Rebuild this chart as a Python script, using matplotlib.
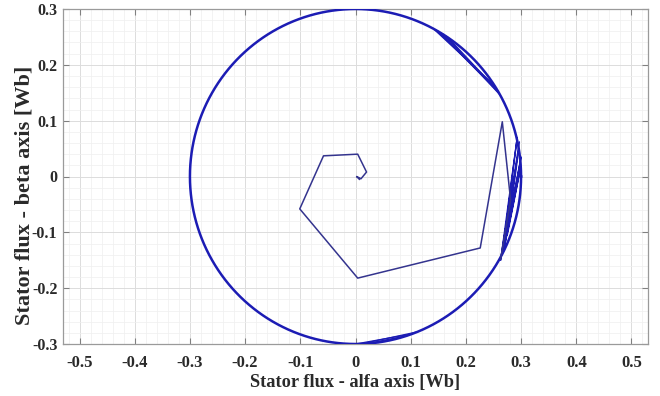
import numpy as np
import matplotlib
matplotlib.use("Agg")
import matplotlib.pyplot as plt
from matplotlib.ticker import MultipleLocator

# ---- data ----
flux_ref = 0.3  # steady-state stator flux magnitude [Wb]

# start-up transient trajectory (alpha, beta)
trans_alpha = [0.007, 0.002, 0.010, 0.020, 0.014, 0.004, -0.058, -0.101, 0.004, 0.226, 0.266, 0.281, 0.263]
trans_beta = [-0.005, 0.000, -0.004, 0.008, 0.020, 0.040, 0.037, -0.058, -0.182, -0.128, 0.098, -0.042, -0.148]

# zig-zag chords on the right side
zig_alpha = [0.263, 0.297, 0.270, 0.300, 0.268, 0.299, 0.275, 0.296, 0.266, 0.293, 0.263]
zig_beta = [-0.148, 0.062, -0.125, 0.035, -0.135, 0.015, -0.105, 0.050, -0.140, 0.070, -0.150]

# chords near the top-right (start/end angles in degrees)
top_chord_start = [60, 58, 57, 61, 59, 56, 62]
top_chord_end = [30, 31, 29, 32, 30, 31, 33]

# chords near the bottom
bot_chord_start = [-90, -88, -86]
bot_chord_end = [-70, -68, -72]

xticks = [-0.5, -0.4, -0.3, -0.2, -0.1, 0, 0.1, 0.2, 0.3, 0.4, 0.5]
yticks = [-0.3, -0.2, -0.1, 0, 0.1, 0.2, 0.3]

# ---- figure ----
plt.rcParams['font.family'] = ['Liberation Serif', 'DejaVu Serif']
plt.rcParams['font.weight'] = 'bold'

fig = plt.figure(figsize=(6.6, 3.96), dpi=100)
ax = fig.add_axes([63/660, 52/396, (648-63)/660, (344-9)/396])

circ_col = '#1c1cb4'
tr_col = '#34348e'
txt_col = '#2a2a2a'

theta = np.linspace(0, 2*np.pi, 721)
ax.plot(flux_ref*np.cos(theta), flux_ref*np.sin(theta), color=circ_col, lw=1.8, zorder=3)

for a0, a1 in zip(top_chord_start, top_chord_end):
    r0, r1 = np.deg2rad(a0), np.deg2rad(a1)
    ax.plot([flux_ref*np.cos(r0), flux_ref*np.cos(r1)],
            [flux_ref*np.sin(r0), flux_ref*np.sin(r1)], color=circ_col, lw=0.9, zorder=3)
for a0, a1 in zip(bot_chord_start, bot_chord_end):
    r0, r1 = np.deg2rad(a0), np.deg2rad(a1)
    ax.plot([flux_ref*np.cos(r0), flux_ref*np.cos(r1)],
            [flux_ref*np.sin(r0), flux_ref*np.sin(r1)], color=circ_col, lw=0.9, zorder=3)

ax.plot(zig_alpha, zig_beta, color=circ_col, lw=1.0, zorder=3)
ax.plot(trans_alpha, trans_beta, color=tr_col, lw=1.1, zorder=4)

ax.set_xlim(-0.53, 0.53)
ax.set_ylim(-0.3, 0.3)
ax.set_xticks(xticks)
ax.set_yticks(yticks)
ax.set_xticklabels(['-0.5', '-0.4', '-0.3', '-0.2', '-0.1', '0', '0.1', '0.2', '0.3', '0.4', '0.5'])
ax.set_yticklabels(['-0.3', '-0.2', '-0.1', '0', '0.1', '0.2', '0.3'])
ax.xaxis.set_minor_locator(MultipleLocator(0.02))
ax.yaxis.set_minor_locator(MultipleLocator(0.02))

ax.grid(which='major', color='#dcdcdc', lw=0.7)
ax.grid(which='minor', color='#efefef', lw=0.5)
ax.set_axisbelow(True)

ax.tick_params(which='major', direction='in', length=4, width=0.8, color='#808080',
               top=True, right=True)
ax.tick_params(axis='x', labelsize=12, pad=8)
ax.tick_params(axis='y', labelsize=11.5, pad=4)
ax.tick_params(which='minor', length=0)
for s in ax.spines.values():
    s.set_color('#9a9a9a')
    s.set_linewidth(0.9)

ax.set_xlabel('Stator flux - alfa axis [Wb]', fontsize=13.2, fontweight='bold', color=txt_col, labelpad=2)
ax.set_ylabel('Stator flux - beta axis [Wb]', fontsize=16, fontweight='bold', color=txt_col)
ax.yaxis.set_label_coords(-0.0495, 0.445)
for lbl in ax.get_xticklabels() + ax.get_yticklabels():
    lbl.set_color(txt_col)
    lbl.set_fontweight('bold')

fig.savefig('out.png', dpi=100)
